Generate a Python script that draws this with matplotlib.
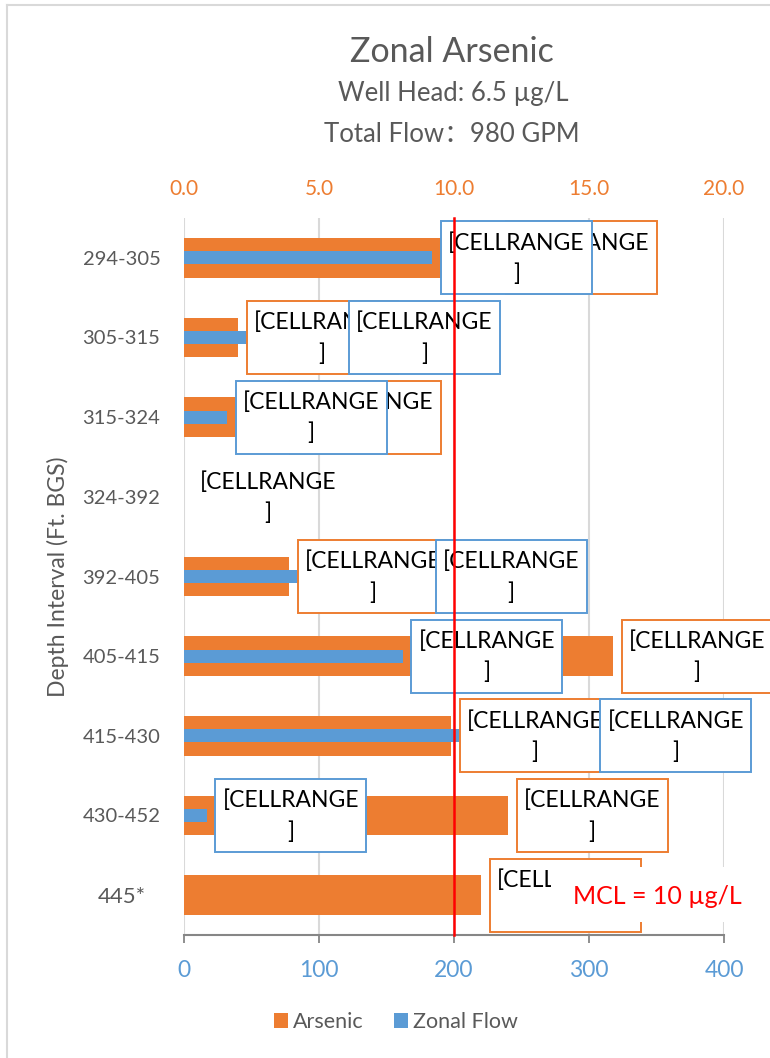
import matplotlib
matplotlib.use("Agg")
import matplotlib.pyplot as plt
import matplotlib.transforms as mtransforms
from matplotlib.patches import Rectangle, Patch
from matplotlib.lines import Line2D
import numpy as np

plt.rcParams['font.family'] = ['Lato', 'Noto Sans CJK SC', 'DejaVu Sans']

# ---- data -------------------------------------------------------------
intervals = ["294-305", "305-315", "315-324", "324-392", "392-405",
             "405-415", "415-430", "430-452", "445*"]
arsenic = [11.6, 2.0, 3.6, 0.0, 3.9, 15.9, 9.9, 12.0, 11.0]      # µg/L
zonal_flow = [184, 116, 32, 0, 180, 162, 302, 17, 0]             # GPM
arsenic_ticks = [0.0, 5.0, 10.0, 15.0, 20.0]
flow_ticks = [0, 100, 200, 300, 400]
mcl = 10.0
label_text = ("[CELLRANGE", "]")

# ---- style ------------------------------------------------------------
ORANGE = "#ED7D31"
BLUE = "#5B9BD5"
TXT = "#595959"
GRID = "#D9D9D9"
AXIS = "#868686"

W, H = 770, 1058
fig = plt.figure(figsize=(W / 100, H / 100), dpi=100)

# chart-area border
fig.add_artist(Line2D([7 / W, 7 / W], [0, 1 - 5 / H], transform=fig.transFigure,
                      color=GRID, lw=1.5))
fig.add_artist(Line2D([7 / W, 1], [1 - 5 / H, 1 - 5 / H], transform=fig.transFigure,
                      color=GRID, lw=1.5))

# plot area in pixels
pl, pr, pt, pb = 184, 724, 218, 935
ax = fig.add_axes([pl / W, 1 - pb / H, (pr - pl) / W, (pb - pt) / H])
ypos = np.arange(len(intervals))

# arsenic bars (scale shown on the top axis)
ax.barh(ypos, arsenic, height=0.5, color=ORANGE, zorder=2)
ax.set_xlim(arsenic_ticks[0], arsenic_ticks[-1])
ax.set_ylim(len(intervals) - 0.5, -0.5)
ax.set_yticks(ypos)
ax.set_yticklabels(intervals, color=TXT, fontsize=14.5)
ax.tick_params(axis='y', length=0, pad=17)
# the footnoted interval label sits a little further left and larger
last = ax.get_yticklabels()[-1]
last.set_fontsize(16)
last.set_transform(last.get_transform()
                   + mtransforms.ScaledTranslation(-14 / 100, 0, fig.dpi_scale_trans))
ax.set_ylabel("Depth Interval (Ft. BGS)", color=TXT, fontsize=16.5)
ax.yaxis.set_label_coords((69 - pl) / (pr - pl), 0.5)
ax.grid(axis='x', color=GRID, lw=1.5)
ax.set_axisbelow(True)
for s in ax.spines.values():
    s.set_visible(False)

# zonal flow bars (scale shown on the bottom axis)
ax2 = ax.twiny()
ax2.barh(ypos, zonal_flow, height=0.163, color=BLUE, zorder=2)
ax2.set_xlim(flow_ticks[0], flow_ticks[-1])
ax2.xaxis.tick_bottom()
ax2.set_xticks(flow_ticks)
ax2.set_xticklabels([str(t) for t in flow_ticks], color=BLUE, fontsize=16.5)
ax2.tick_params(axis='x', direction='out', length=6, width=1.3, color=AXIS, pad=12)
for name, s in ax2.spines.items():
    s.set_visible(name == 'bottom')
ax2.spines['bottom'].set_color(AXIS)
ax2.spines['bottom'].set_linewidth(1.5)

ax.xaxis.tick_top()
ax.set_xticks(arsenic_ticks)
ax.set_xticklabels([f"{t:.1f}" for t in arsenic_ticks], color=ORANGE, fontsize=15)
ax.tick_params(axis='x', length=0, pad=14)


# data-label boxes, sized in pixels and anchored at the bar end
def cell_label(host, value, yc, edge, z):
    T = fig.dpi_scale_trans + mtransforms.ScaledTranslation(value, yc, host.transData)
    x0, w, h = 8.5 / 100, 151 / 100, 73 / 100
    if edge is not None:
        fig.add_artist(Rectangle((x0, -h / 2), w, h, transform=T, facecolor='white',
                                 edgecolor=edge, lw=1.4, zorder=z))
    fig.add_artist(plt.Text(x0 + w / 2, 0.15, label_text[0], transform=T, ha='center',
                            va='center', fontsize=16.5, color='black', zorder=z + 0.1))
    fig.add_artist(plt.Text(x0 + w / 2, -0.165, label_text[1], transform=T, ha='center',
                            va='center', fontsize=16.5, color='black', zorder=z + 0.1))


for i in ypos:
    if arsenic[i] > 0:
        cell_label(ax, arsenic[i], i, ORANGE, 5)
for i in ypos:
    if zonal_flow[i] > 0:
        cell_label(ax2, zonal_flow[i], i, BLUE, 6)
for i in ypos:
    if arsenic[i] == 0 and zonal_flow[i] == 0:
        cell_label(ax, 0, i, None, 6)

# MCL reference line
fig.add_artist(Line2D([mcl, mcl], [0, 1], transform=ax.get_xaxis_transform(),
                      color='#FF0000', lw=1.8, zorder=7))

# MCL note in a white box
bx0, bx1, by0, by1 = 551, 763, 922, 867
fig.add_artist(Rectangle(((bx0 - pl) / (pr - pl), (pb - by0) / (pb - pt)),
                         (bx1 - bx0) / (pr - pl), (by0 - by1) / (pb - pt),
                         transform=ax.transAxes, facecolor='white', edgecolor='none',
                         zorder=8))
fig.add_artist(plt.Text((657 - pl) / (pr - pl), (pb - 897) / (pb - pt), "MCL = 10 µg/L",
                        transform=ax.transAxes, ha='center', va='center',
                        fontsize=18, color='#FF0000', zorder=9))

# titles
fig.text(452 / W, 1 - 52 / H, "Zonal Arsenic", ha='center', va='center', fontsize=24.5, color=TXT)
fig.text(453 / W, 1 - 93 / H, "Well Head: 6.5 µg/L", ha='center', va='center', fontsize=18.5, color=TXT)
fig.text(452 / W, 1 - 134 / H, "Total Flow：980 GPM", ha='center', va='center', fontsize=18.5, color=TXT)

# legend
handles = [Patch(facecolor=ORANGE, label="Arsenic"), Patch(facecolor=BLUE, label="Zonal Flow")]
fig.legend(handles=handles, loc='center', bbox_to_anchor=(396 / W, 1 - 1022 / H), ncol=2,
           frameon=False, fontsize=15.5, handlelength=0.65, handleheight=0.65,
           handletextpad=0.25, columnspacing=1.4, labelcolor=TXT)

fig.savefig("out.png", dpi=100)
